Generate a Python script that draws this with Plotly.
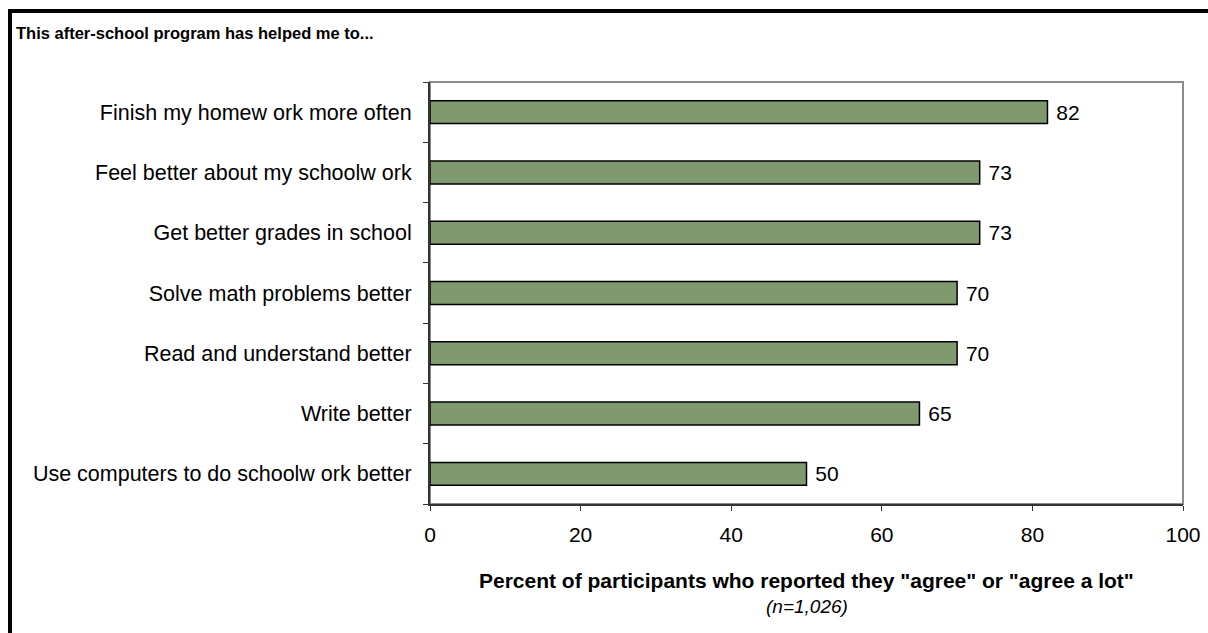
import plotly.graph_objects as go

categories = [
    "Finish my homew ork more often",
    "Feel better about my schoolw ork",
    "Get better grades in school",
    "Solve math problems better",
    "Read and understand better",
    "Write better",
    "Use computers to do schoolw ork better",
]
values = [82, 73, 73, 70, 70, 65, 50]
x_ticks = [0, 20, 40, 60, 80, 100]

W, H = 1208, 633
L, R, T, B = 430, 1183, 82, 504

def px(p):
    return (p - L) / (R - L)

def py(p):
    return (B - p) / (B - T)

FONT = "Liberation Sans, Arial, sans-serif"

fig = go.Figure(go.Bar(
    x=values,
    y=categories,
    orientation="h",
    marker=dict(color="#7F9A6F", line=dict(color="black", width=1.5)),
    width=0.38,
    text=[" " + str(v) for v in values],
    textposition="outside",
    textfont=dict(family=FONT, size=21, color="black"),
    cliponaxis=False,
))

fig.update_layout(
    width=W, height=H,
    margin=dict(l=L, r=W - R, t=T, b=H - B, autoexpand=False),
    paper_bgcolor="white", plot_bgcolor="white",
    showlegend=False,
    font=dict(family=FONT, color="black"),
    uniformtext=dict(minsize=21, mode="show"),
)

fig.update_xaxes(
    range=[0, 100], tickvals=x_ticks, automargin=False,
    showgrid=False, zeroline=False,
    showline=True, linecolor="#333333", linewidth=2,
    ticks="outside", ticklen=5, tickcolor="#333333", tickwidth=1,
    tickfont=dict(family=FONT, size=21, color="black"),
    ticklabelstandoff=6,
)
fig.update_yaxes(
    categoryorder="array", categoryarray=categories[::-1],
    autorange=False, range=[-0.5, 6.5], automargin=False,
    showgrid=False, zeroline=False,
    showline=True, linecolor="#333333", linewidth=2,
    ticks="outside", ticklen=5, tickcolor="#333333", tickwidth=1,
    tickson="boundaries",
    tickfont=dict(family=FONT, size=21.5, color="black"),
    ticklabelstandoff=12,
)

shapes = [
    dict(type="rect", xref="paper", yref="paper", x0=0, x1=1, y0=0, y1=1,
         line=dict(color="#8C8C8C", width=2), layer="below"),
    dict(type="line", xref="paper", yref="paper",
         x0=px(8), x1=px(1215), y0=py(11), y1=py(11),
         line=dict(color="black", width=4)),
    dict(type="line", xref="paper", yref="paper",
         x0=px(10), x1=px(10), y0=py(9), y1=py(640),
         line=dict(color="black", width=4)),
]
fig.update_layout(shapes=shapes)

annotations = [
    dict(text="<b>This after-school program has helped me to...</b>",
         xref="paper", yref="paper", x=px(14), y=py(33),
         xanchor="left", yanchor="middle", showarrow=False,
         font=dict(family=FONT, size=16.5, color="black")),
    dict(text="<b>Percent of participants who reported they \"agree\" or \"agree a lot\"</b>",
         xref="paper", yref="paper", x=0.5, y=py(580),
         xanchor="center", yanchor="middle", showarrow=False,
         font=dict(family=FONT, size=21, color="black")),
    dict(text="<i>(n=1,026)</i>",
         xref="paper", yref="paper", x=0.5, y=py(606),
         xanchor="center", yanchor="middle", showarrow=False,
         font=dict(family=FONT, size=19, color="black")),
]
fig.update_layout(annotations=annotations)

fig.write_html("out.html")
